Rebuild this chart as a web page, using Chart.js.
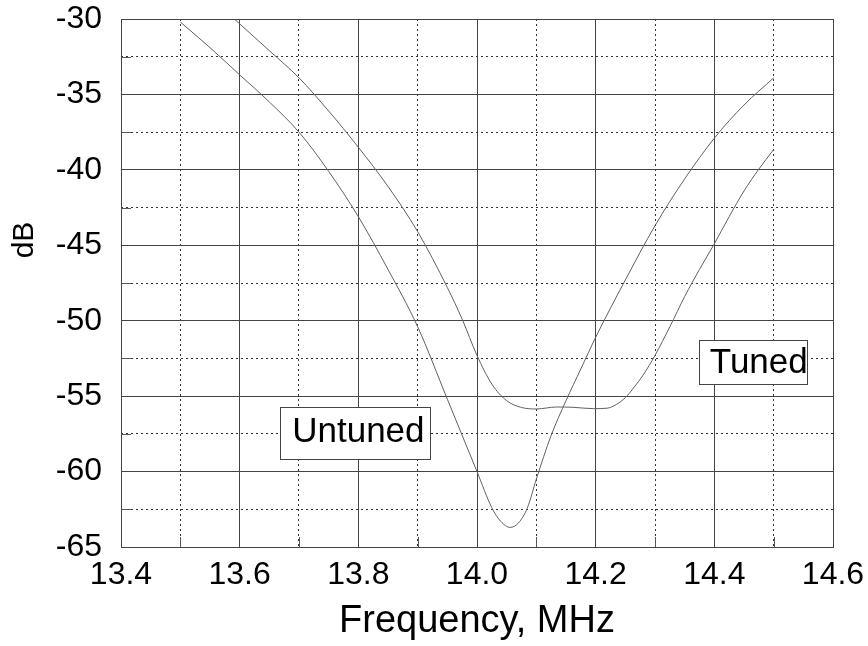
<!DOCTYPE html>
<html><head><meta charset="utf-8">
<script src="https://cdn.jsdelivr.net/npm/chart.js@4.4.0/dist/chart.umd.min.js"></script>
<style>html,body{margin:0;padding:0;background:#fff}#wrap{width:868px;height:646px}</style>
</head><body><div id="wrap"><canvas id="c" width="868" height="646"></canvas></div>
<script>
// ---- data ----
const untunedFreq = [13.5, 13.55, 13.6, 13.65, 13.7, 13.75, 13.8, 13.85, 13.9, 13.95, 14.0, 14.025, 14.04, 14.056, 14.07, 14.085, 14.1, 14.125, 14.15, 14.175, 14.2, 14.25, 14.3, 14.35, 14.4, 14.45, 14.5];
const untunedDb   = [-30.2, -31.9, -33.7, -35.5, -37.5, -40.1, -43.1, -46.6, -50.4, -55.2, -60.0, -62.4, -63.3, -63.7, -63.4, -62.4, -60.5, -57.6, -55.3, -53.2, -51.1, -47.3, -43.7, -40.6, -37.9, -35.7, -33.9];
const tunedFreq = [13.591, 13.65, 13.7, 13.75, 13.8, 13.85, 13.9, 13.95, 13.975, 14.0, 14.025, 14.05, 14.075, 14.1, 14.134, 14.162, 14.196, 14.219, 14.235, 14.25, 14.265, 14.28, 14.3, 14.325, 14.35, 14.375, 14.4, 14.425, 14.45, 14.475, 14.5];
const tunedDb   = [-30, -32.1, -33.9, -36.1, -38.5, -41.1, -44.1, -47.8, -49.9, -52.3, -54.2, -55.3, -55.75, -55.85, -55.72, -55.74, -55.83, -55.8, -55.55, -55.1, -54.4, -53.6, -52.3, -50.4, -48.4, -46.6, -44.9, -43.1, -41.4, -39.95, -38.65];
const xMajorTicks = [13.4, 13.6, 13.8, 14.0, 14.2, 14.4, 14.6];
const xMinorTicks = [13.5, 13.7, 13.9, 14.1, 14.3, 14.5];
const yMajorTicks = [-65, -60, -55, -50, -45, -40, -35, -30];
const yMinorTicks = [-62.5, -57.5, -52.5, -47.5, -42.5, -37.5, -32.5];
const seriesNames = ['Untuned', 'Tuned'];
const xTitle = 'Frequency, MHz';
const yTitle = 'dB';

const FONT = "'Liberation Sans', Arial, sans-serif";
const toPts = (xs, ys) => xs.map((x, i) => ({x: x, y: ys[i]}));
const noPad = s => { s.paddingTop = 0; s.paddingBottom = 0; s.paddingLeft = 0; s.paddingRight = 0; };

const extras = {
  id: 'extras',
  afterDatasetsDraw(chart) {
    const ctx = chart.ctx, xs = chart.scales.x, ys = chart.scales.y, a = chart.chartArea;
    ctx.save();
    // short solid minor tick marks on left and bottom edges
    ctx.strokeStyle = '#555'; ctx.lineWidth = 1; ctx.setLineDash([]);
    xMinorTicks.forEach(v => {
      const px = Math.round(xs.getPixelForValue(v)) + 0.5;
      ctx.beginPath(); ctx.moveTo(px, a.bottom); ctx.lineTo(px, a.bottom - 10); ctx.stroke();
    });
    yMinorTicks.forEach(v => {
      const py = Math.round(ys.getPixelForValue(v)) + 0.5;
      ctx.beginPath(); ctx.moveTo(a.left, py); ctx.lineTo(a.left + 10, py); ctx.stroke();
    });
    // label boxes
    const boxes = [
      {text: seriesNames[0], fx: 13.668, fy: -55.72, w: 150, h: 52, tx: 11.7, ty: 34.7},
      {text: seriesNames[1], fx: 14.374, fy: -51.28, w: 108, h: 44, tx: 10.3, ty: 32.7}
    ];
    ctx.font = '35px ' + FONT;
    boxes.forEach(b => {
      const bx = Math.round(xs.getPixelForValue(b.fx)) + 0.5;
      const by = Math.round(ys.getPixelForValue(b.fy)) + 0.5;
      ctx.fillStyle = '#fff';
      ctx.fillRect(bx, by, b.w, b.h);
      ctx.strokeStyle = '#444';
      ctx.strokeRect(bx, by, b.w, b.h);
      ctx.fillStyle = '#000';
      ctx.textAlign = 'left'; ctx.textBaseline = 'alphabetic';
      ctx.fillText(b.text, bx + b.tx, by + b.ty);
    });
    // y axis title
    ctx.translate(25, 240);
    ctx.rotate(-Math.PI / 2);
    ctx.font = '30px ' + FONT;
    ctx.textAlign = 'center'; ctx.textBaseline = 'middle';
    ctx.fillStyle = '#000';
    ctx.fillText(yTitle, 0, 0);
    ctx.restore();
  }
};

new Chart(document.getElementById('c'), {
  type: 'line',
  data: {
    datasets: [
      {label: seriesNames[0], data: toPts(untunedFreq, untunedDb), borderColor: '#606060', borderWidth: 1, pointRadius: 0, cubicInterpolationMode: 'monotone', fill: false},
      {label: seriesNames[1], data: toPts(tunedFreq, tunedDb), borderColor: '#606060', borderWidth: 1, pointRadius: 0, cubicInterpolationMode: 'monotone', fill: false}
    ]
  },
  options: {
    responsive: false,
    animation: false,
    devicePixelRatio: 1,
    layout: {padding: {left: 0, top: 19, right: 35, bottom: 0}},
    plugins: {legend: {display: false}, tooltip: {enabled: false}},
    scales: {
      x: {
        type: 'linear', position: 'bottom', min: 13.4, max: 14.6,
        afterBuildTicks: s => { s.ticks = xMajorTicks.map(v => ({value: v})); },
        ticks: {callback: v => Number(v).toFixed(1), font: {family: FONT, size: 32}, color: '#000', padding: 9, maxRotation: 0, autoSkip: false},
        grid: {color: '#444', lineWidth: 1, drawTicks: false},
        border: {color: '#444', width: 1},
        title: {display: true, text: xTitle, font: {family: FONT, size: 38}, color: '#000', padding: {top: 0, bottom: 2}},
        afterFit: s => { s.height = 99; noPad(s); }
      },
      x2: {
        type: 'linear', position: 'bottom', min: 13.4, max: 14.6,
        afterBuildTicks: s => { s.ticks = xMinorTicks.map(v => ({value: v})); },
        ticks: {display: false},
        grid: {color: '#333', lineWidth: 1, drawTicks: false},
        border: {display: false, dash: [2, 3]},
        afterFit: s => { s.height = 0; noPad(s); }
      },
      y: {
        type: 'linear', position: 'left', min: -65, max: -30,
        afterBuildTicks: s => { s.ticks = yMajorTicks.map(v => ({value: v})); },
        ticks: {callback: v => String(v), font: {family: FONT, size: 32}, color: '#000', padding: 19, autoSkip: false},
        grid: {color: '#444', lineWidth: 1, drawTicks: false},
        border: {color: '#444', width: 1},
        afterFit: s => { s.width = 121; noPad(s); }
      },
      y2: {
        type: 'linear', position: 'left', min: -65, max: -30,
        afterBuildTicks: s => { s.ticks = yMinorTicks.map(v => ({value: v})); },
        ticks: {display: false},
        grid: {color: '#333', lineWidth: 1, drawTicks: false},
        border: {display: false, dash: [2, 3]},
        afterFit: s => { s.width = 0; noPad(s); }
      }
    }
  },
  plugins: [extras]
});
</script>
</body></html>
